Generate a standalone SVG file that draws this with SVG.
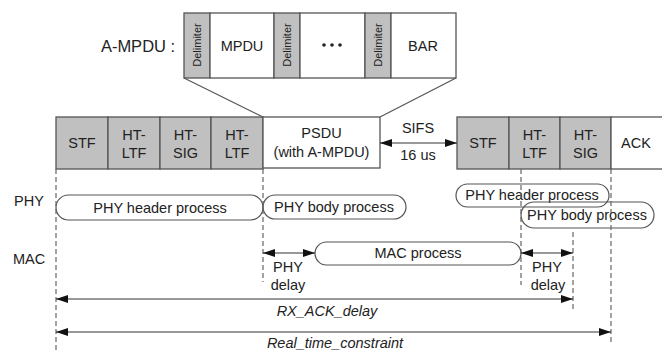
<svg xmlns="http://www.w3.org/2000/svg" width="662" height="351" viewBox="0 0 662 351">
<defs>
<style>
text{font-family:"Liberation Sans",Arial,sans-serif;font-size:14.5px;fill:#222;text-anchor:middle}
.g{fill:#c0c0c0;stroke:#555;stroke-width:1.3}
.w{fill:#fff;stroke:#555;stroke-width:1.3}
.dl{font-size:11px}
.big{font-size:16.5px}
.it{font-style:italic}
.pr{fill:none;stroke:#555;stroke-width:1.2}
.dash{stroke:#666;stroke-width:1.2;stroke-dasharray:5,3;fill:none}
.ln{stroke:#555;stroke-width:1.2;fill:none}
.ar{stroke:#333;stroke-width:1.2;fill:none;marker-start:url(#a);marker-end:url(#a)}
.ar1{stroke:#333;stroke-width:1.2;fill:none;marker-start:url(#a);marker-end:url(#a)}
</style>
<marker id="a" viewBox="0 0 12 8" refX="12" refY="4" markerWidth="12" markerHeight="8" markerUnits="userSpaceOnUse" orient="auto-start-reverse">
<path d="M0,0 L12,4 L0,8 z" fill="#111"/>
</marker>
</defs>

<g id="ampdu">
<text class="big" x="138" y="52">A-MPDU :</text>
<rect class="g" x="184" y="13" width="26" height="65"/>
<text class="dl" transform="translate(201,45) rotate(-90)">Delimiter</text>
<rect class="w" x="210" y="13" width="64" height="65"/>
<text x="242" y="51">MPDU</text>
<rect class="g" x="274" y="13" width="26" height="65"/>
<text class="dl" transform="translate(291,45) rotate(-90)">Delimiter</text>
<rect class="w" x="300" y="13" width="65" height="65"/>
<circle cx="324" cy="45" r="1.8" fill="#222"/>
<circle cx="332" cy="45" r="1.8" fill="#222"/>
<circle cx="340" cy="45" r="1.8" fill="#222"/>
<rect class="g" x="365" y="13" width="26" height="65"/>
<text class="dl" transform="translate(382,45) rotate(-90)">Delimiter</text>
<rect class="w" x="391" y="13" width="65" height="65"/>
<text x="423" y="51">BAR</text>
</g>

<g id="frame-tx">
<rect class="g" x="56" y="117" width="52" height="52"/>
<text x="82" y="148">STF</text>
<rect class="g" x="108" y="117" width="52" height="52"/>
<text x="134" y="140">HT-</text><text x="134" y="158">LTF</text>
<rect class="g" x="160" y="117" width="51" height="52"/>
<text x="185.5" y="140">HT-</text><text x="185.5" y="158">SIG</text>
<rect class="g" x="211" y="117" width="52" height="52"/>
<text x="237" y="140">HT-</text><text x="237" y="158">LTF</text>
<rect class="w" x="263" y="117" width="117" height="51"/>
<text x="321.5" y="138">PSDU</text>
<text x="321.5" y="157">(with A-MPDU)</text>
</g>

<g id="frame-ack">
<rect class="g" x="457" y="117" width="52" height="52"/>
<text x="483" y="148">STF</text>
<rect class="g" x="509" y="117" width="51" height="52"/>
<text x="534.5" y="140">HT-</text><text x="534.5" y="158">LTF</text>
<rect class="g" x="560" y="117" width="51" height="52"/>
<text x="585.5" y="140">HT-</text><text x="585.5" y="158">SIG</text>
<rect class="w" x="611" y="117" width="60" height="52"/>
<text x="636" y="148">ACK</text>
</g>

<g id="labels">
<text x="29" y="206">PHY</text>
<text x="29" y="264">MAC</text>
<text x="418" y="133">SIFS</text>
<text x="418" y="160">16 us</text>
<text x="288" y="272">PHY</text>
<text x="288" y="290">delay</text>
<text x="547" y="272">PHY</text>
<text x="548" y="290">delay</text>
<text class="it" x="327" y="316">RX_ACK_delay</text>
<text class="it" x="335" y="348">Real_time_constraint</text>
</g>

<g id="phy-header-1">
<rect class="pr" x="56" y="195" width="207" height="25" rx="12.5"/>
<text x="160" y="213">PHY header process</text>
</g>
<g id="phy-body-1">
<rect class="pr" x="263" y="195" width="143" height="24" rx="12"/>
<text x="334" y="212">PHY body process</text>
</g>
<g id="phy-header-2">
<rect class="pr" x="456" y="184" width="153" height="23" rx="11.5"/>
<text x="532" y="200">PHY header process</text>
</g>
<g id="phy-body-2">
<rect class="pr" x="521" y="202" width="133" height="26" rx="13"/>
<text x="587" y="220">PHY body process</text>
</g>
<g id="mac-process">
<rect class="pr" x="315" y="242" width="206" height="23" rx="11.5"/>
<text x="418" y="258">MAC process</text>
</g>

<g id="connectors">
<line class="ln" x1="184" y1="78" x2="263" y2="117"/>
<line class="ln" x1="456" y1="78" x2="380" y2="117"/>
<line class="dash" x1="56" y1="169" x2="56" y2="351"/>
<line class="dash" x1="263" y1="169" x2="263" y2="282"/>
<line class="dash" x1="521" y1="169" x2="521" y2="285"/>
<line class="dash" x1="573" y1="232" x2="573" y2="312"/>
<line class="dash" x1="611" y1="169" x2="611" y2="345"/>
<line class="ar" x1="380" y1="143" x2="457" y2="143"/>
<line class="ar" x1="263" y1="253" x2="315" y2="253"/>
<line class="ar" x1="521" y1="253" x2="573" y2="253"/>
<line class="ar" x1="56" y1="299" x2="573" y2="299"/>
<line class="ar" x1="56" y1="332" x2="611" y2="332"/>
</g>
</svg>
